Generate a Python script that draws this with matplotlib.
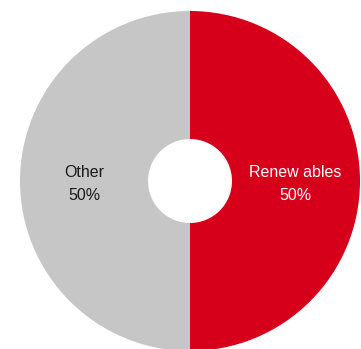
import numpy as np
import matplotlib.pyplot as plt

labels = ['Renew ables', 'Other']
shares = [50, 50]
colors = ['#D7001A', '#C6C6C6']
text_colors = ['white', '#1a1a1a']

plt.rcParams['font.family'] = ['Liberation Sans', 'DejaVu Sans']

fig = plt.figure(figsize=(3.61, 3.49), dpi=100)
ax = fig.add_axes([20 / 361, -2 / 349, 340 / 361, 340 / 349])

wedges, _ = ax.pie(shares, colors=colors, startangle=90, counterclock=False,
                   radius=1.0, wedgeprops=dict(width=0.753, linewidth=0))

# labels sit in the middle of the ring, at each wedge's mid angle
for w, lab, val, tc in zip(wedges, labels, shares, text_colors):
    mid = np.deg2rad((w.theta1 + w.theta2) / 2)
    r = 0.62
    ax.text(r * np.cos(mid), r * np.sin(mid) - 0.02, f'{lab}\n{val}%',
            ha='center', va='center', fontsize=11.5, color=tc,
            linespacing=1.65)

ax.set_xlim(-1, 1)
ax.set_ylim(-1, 1)
ax.set_aspect('equal')
ax.axis('off')

fig.savefig('out.png', dpi=100)
